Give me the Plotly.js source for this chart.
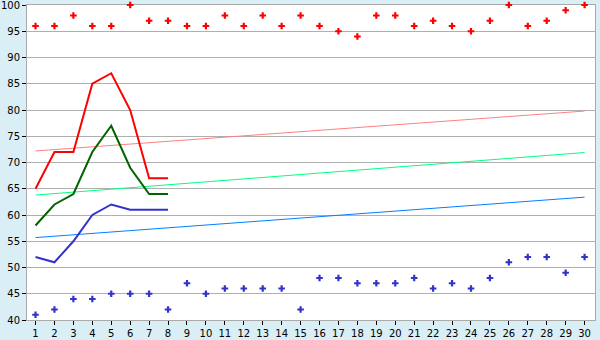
<!DOCTYPE html>
<html>
<head>
<meta charset="utf-8">
<script src="https://cdn.plot.ly/plotly-3.0.1.min.js"></script>
<style>html,body{margin:0;padding:0;background:#d9eef5;}#chart{width:600px;height:340px;}</style>
</head>
<body>
<div id="chart"></div>
<script>
const days = [1,2,3,4,5,6,7,8,9,10,11,12,13,14,15,16,17,18,19,20,21,22,23,24,25,26,27,28,29,30];
const highPoints = [96,96,98,96,96,100,97,97,96,96,98,96,98,96,98,96,95,94,98,98,96,97,96,95,97,100,96,97,99,100];
const lowPoints = [41,42,44,44,45,45,45,42,47,45,46,46,46,46,42,48,48,47,47,47,48,46,47,46,48,51,52,52,49,52];
const lineDays = [1,2,3,4,5,6,7,8];
const redLine = [65,72,72,85,87,80,67,67];
const greenLine = [58,62,64,72,77,69,64,64];
const blueLine = [52,51,55,60,62,61,61,61];
const trendDays = [1,30];
const redTrend = [72.2,79.8];
const greenTrend = [63.8,71.9];
const blueTrend = [55.7,63.4];

const traces = [
  {x: trendDays, y: redTrend, mode:'lines', line:{color:'#ff8080', width:1}},
  {x: trendDays, y: greenTrend, mode:'lines', line:{color:'#00ff80', width:1}},
  {x: trendDays, y: blueTrend, mode:'lines', line:{color:'#0080ff', width:1}},
  {x: lineDays, y: redLine, mode:'lines', line:{color:'#ff0000', width:2}},
  {x: lineDays, y: greenLine, mode:'lines', line:{color:'#006400', width:2}},
  {x: lineDays, y: blueLine, mode:'lines', line:{color:'#3333cc', width:2}},
  {x: days, y: highPoints, mode:'markers', cliponaxis:false, marker:{symbol:'cross', size:5.5, color:'#ff0000', line:{width:0}}},
  {x: days, y: lowPoints, mode:'markers', cliponaxis:false, marker:{symbol:'cross', size:5.5, color:'#3333cc', line:{width:0}}}
];

const layout = {
  width:600, height:340,
  margin:{l:27, r:5, t:5, b:20},
  paper_bgcolor:'#d9eef5',
  plot_bgcolor:'#ffffff',
  showlegend:false,
  font:{family:'DejaVu Sans', size:10, color:'#000'},
  xaxis:{range:[0.55,30.55], tickmode:'array', tickvals:days, ticktext:days.map(String),
    ticks:'outside', ticklen:4, tickcolor:'#000', showgrid:false, zeroline:false, layer:'below traces',
    showline:true, linecolor:'#aaaaaa', linewidth:1, mirror:true, tickangle:0, fixedrange:true},
  yaxis:{range:[40,100], tickmode:'linear', tick0:40, dtick:5, ticks:'outside', ticklen:4, tickcolor:'#000',
    ticklabeloverflow:'allow', showgrid:true, gridcolor:'#b0b0b0', gridwidth:1, zeroline:false, layer:'below traces',
    showline:true, linecolor:'#aaaaaa', linewidth:1, mirror:true, fixedrange:true}
};
Plotly.newPlot('chart', traces, layout, {displayModeBar:false, staticPlot:true});
</script>
</body>
</html>
